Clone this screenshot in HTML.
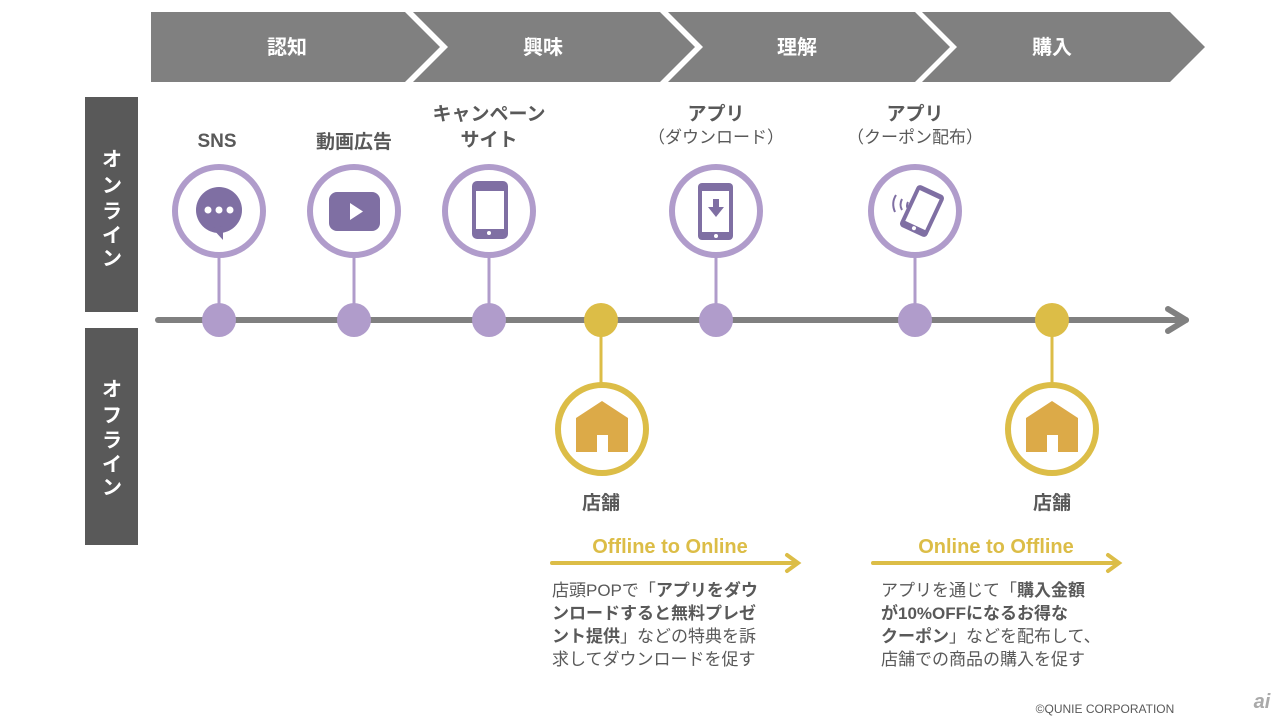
<!DOCTYPE html>
<html><head><meta charset="utf-8"><style>
html,body{margin:0;padding:0;background:#fff;}
svg{display:block;font-family:"Liberation Sans","Noto Sans CJK JP",sans-serif;}
</style></head><body>
<svg width="1280" height="720" viewBox="0 0 1280 720" xmlns="http://www.w3.org/2000/svg">
<g fill="#808080">
<polygon points="151,12 405,12 440,47 405,82 151,82"/>
<polygon points="413,12 660,12 695,47 660,82 413,82 448,47"/>
<polygon points="668,12 915,12 950,47 915,82 668,82 703,47"/>
<polygon points="922,12 1170,12 1205,47 1170,82 922,82 957,47"/>
</g>
<g fill="#fff" font-size="20" font-weight="bold" text-anchor="middle">
<text x="287" y="54">認知</text><text x="543" y="54">興味</text><text x="797" y="54">理解</text><text x="1052" y="54">購入</text>
</g>
<rect x="85" y="97" width="53" height="215" fill="#595959"/>
<rect x="85" y="328" width="53" height="217" fill="#595959"/>
<g fill="#fff" font-size="20" font-weight="bold" text-anchor="middle">
<text x="112" y="166">オ</text><text x="112" y="192">ン</text><text x="112" y="218">ラ</text><text x="112" y="242">イ</text><text x="112" y="265">ン</text>
<text x="112" y="396">オ</text><text x="112" y="422">フ</text><text x="112" y="447">ラ</text><text x="112" y="471">イ</text><text x="112" y="494">ン</text>
</g>
<line x1="158" y1="320" x2="1186" y2="320" stroke="#808080" stroke-width="6" stroke-linecap="round"/>
<polyline points="1168,309 1186,320 1168,331" fill="none" stroke="#808080" stroke-width="6" stroke-linecap="round" stroke-linejoin="round"/>
<g stroke="#b09ccb" stroke-width="3">
<line x1="219" y1="255" x2="219" y2="310"/><line x1="354" y1="255" x2="354" y2="310"/><line x1="489" y1="255" x2="489" y2="310"/><line x1="716" y1="255" x2="716" y2="310"/><line x1="915" y1="255" x2="915" y2="310"/>
</g>
<g stroke="#dcbd47" stroke-width="3"><line x1="601" y1="330" x2="601" y2="386"/><line x1="1052" y1="330" x2="1052" y2="386"/></g>
<g fill="#fff" stroke="#b09ccb" stroke-width="6">
<circle cx="219" cy="211" r="44"/><circle cx="354" cy="211" r="44"/><circle cx="489" cy="211" r="44"/><circle cx="716" cy="211" r="44"/><circle cx="915" cy="211" r="44"/>
</g>
<g fill="#fff" stroke="#dcbd47" stroke-width="6"><circle cx="602" cy="429" r="44"/><circle cx="1052" cy="429" r="44"/></g>
<g fill="#b09ccb"><circle cx="219" cy="320" r="17"/><circle cx="354" cy="320" r="17"/><circle cx="489" cy="320" r="17"/><circle cx="716" cy="320" r="17"/><circle cx="915" cy="320" r="17"/></g>
<g fill="#dcbd47"><circle cx="601" cy="320" r="17"/><circle cx="1052" cy="320" r="17"/></g>
<!-- icons -->
<g fill="#7f6fa3">
<circle cx="219" cy="210" r="23"/><polygon points="212,228 223,240 223,226"/>
<rect x="329" y="192" width="51" height="39" rx="8"/>
<rect x="472" y="181" width="36" height="58" rx="5"/>
<rect x="698" y="183" width="35" height="57" rx="4"/>
<g transform="rotate(25 922 211)"><rect x="907" y="188" width="30" height="46" rx="4"/></g>
</g>
<g fill="#fff">
<circle cx="208" cy="210" r="3.5"/><circle cx="219" cy="210" r="3.5"/><circle cx="230" cy="210" r="3.5"/>
<polygon points="350,203 350,220 363,211.5"/>
<rect x="476" y="191" width="28" height="38"/><circle cx="489" cy="233" r="2"/>
<rect x="702" y="191" width="27" height="41"/><circle cx="716" cy="236" r="2"/>
<g transform="rotate(25 922 211)"><rect x="911" y="193" width="22" height="34"/><circle cx="922" cy="230" r="2"/></g>
</g>
<g fill="#7f6fa3"><rect x="713" y="199" width="6" height="10"/><polygon points="708,207 724,207 716,217"/></g>
<g fill="none" stroke="#7f6fa3" stroke-width="2"><path d="M896,195 Q891,203 895,212"/><path d="M902,199 Q899,205 902,210"/><path d="M908,202 Q906,206 908,209"/></g>
<g fill="#dcaa48">
<polygon points="602,401 628,418 628,452 608,452 608,435 597,435 597,452 576,452 576,418"/>
<polygon points="1052,401 1078,418 1078,452 1058,452 1058,435 1047,435 1047,452 1026,452 1026,418"/>
</g>
<g fill="#595959" font-size="19" font-weight="bold" text-anchor="middle">
<text x="217" y="147">SNS</text><text x="354" y="148">動画広告</text>
<text x="489" y="120">キャンペーン</text><text x="489" y="146">サイト</text>
<text x="716" y="120">アプリ</text><text x="915" y="120">アプリ</text>
<text x="601" y="509">店舗</text><text x="1052" y="509">店舗</text>
</g>
<g fill="#595959" font-size="17" text-anchor="middle"><text x="716" y="143">（ダウンロード）</text><text x="915" y="143">（クーポン配布）</text></g>
<g fill="#dcbd47" font-size="20" font-weight="bold" text-anchor="middle"><text x="670" y="553">Offline to Online</text><text x="996" y="553">Online to Offline</text></g>
<g stroke="#dcbd47" stroke-width="4" fill="none" stroke-linecap="round">
<line x1="552" y1="563" x2="797" y2="563"/><polyline points="787,555 798,563 787,571"/>
<line x1="873" y1="563" x2="1118" y2="563"/><polyline points="1108,555 1119,563 1108,571"/>
</g>
<g fill="#595959" font-size="17">
<text x="552" y="596">店頭POPで「<tspan font-weight="bold">アプリをダウ</tspan></text>
<text x="552" y="619" font-weight="bold">ンロードすると無料プレゼ</text>
<text x="552" y="642"><tspan font-weight="bold">ント提供</tspan>」などの特典を訴</text>
<text x="552" y="665">求してダウンロードを促す</text>
<text x="881" y="596">アプリを通じて「<tspan font-weight="bold">購入金額</tspan></text>
<text x="881" y="619" font-weight="bold">が10%OFFになるお得な</text>
<text x="881" y="642"><tspan font-weight="bold">クーポン</tspan>」などを配布して、</text>
<text x="881" y="665">店舗での商品の購入を促す</text>
</g>
<text x="1105" y="713" font-size="12" fill="#595959" text-anchor="middle">©QUNIE CORPORATION</text>
<text x="1262" y="708" font-size="20" font-style="italic" font-weight="bold" fill="#aaa" text-anchor="middle">ai</text>
</svg>
</body></html>
